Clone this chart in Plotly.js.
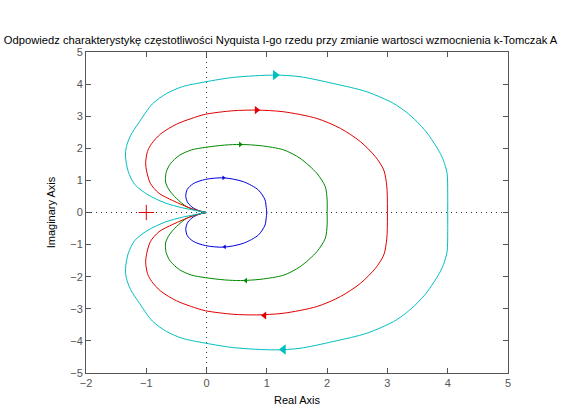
<!DOCTYPE html>
<html>
<head>
<meta charset="utf-8">
<script src="https://cdn.plot.ly/plotly-3.0.1.min.js"></script>
<style>html,body{margin:0;padding:0;background:#fff;}#chart{width:561px;height:420px;}</style>
</head>
<body>
<div id="chart"></div>
<script>
// Upper half of each Nyquist curve (negative frequencies), ordered from the origin to (k, 0).
// The lower half (positive frequencies) is the complex conjugate.
const gains = [1, 2, 3, 4];

const re1 = [0, -0.10, -0.22, -0.31, -0.345, -0.32, -0.22, -0.02, 0.28, 0.61, 0.86, 0.97, 0.99, 1.0];
const im1 = [0, 0.04, 0.14, 0.30, 0.50, 0.72, 0.90, 1.03, 1.08, 0.96, 0.70, 0.39, 0.15, 0];

const re2 = [0, -0.15, -0.33, -0.50, -0.62, -0.68, -0.67, -0.60, -0.45, -0.25, -0.02, 0.30, 0.56, 0.90, 1.28, 1.55, 1.83, 1.97, 2.0, 2.0];
const im2 = [0, 0.06, 0.18, 0.44, 0.70, 0.95, 1.25, 1.52, 1.78, 1.95, 2.03, 2.10, 2.12, 2.08, 1.95, 1.69, 1.22, 0.80, 0.39, 0];

const re3 = [0, -0.22, -0.56, -0.79, -0.93, -0.99, -1.01, -0.98, -0.91, -0.76, -0.50, -0.25, -0.02, 0.44, 0.83, 1.27, 1.83, 2.22, 2.55, 2.80, 2.94, 2.99, 3.0];
const im3 = [0, 0.10, 0.37, 0.60, 0.90, 1.25, 1.55, 1.90, 2.15, 2.45, 2.75, 2.93, 3.06, 3.17, 3.19, 3.14, 2.93, 2.62, 2.21, 1.74, 1.32, 0.80, 0];

const re4 = [0, -0.20, -0.41, -0.69, -0.97, -1.19, -1.30, -1.345, -1.33, -1.26, -1.13, -0.90, -0.66, -0.40, -0.02, 0.45, 1.14, 1.55, 2.10, 2.66, 3.10, 3.31, 3.49, 3.64, 3.76, 3.86, 3.93, 3.99, 4.0, 4.0];
const im4 = [0, 0.07, 0.15, 0.30, 0.55, 0.87, 1.28, 1.75, 2.05, 2.40, 2.78, 3.38, 3.71, 3.92, 4.07, 4.21, 4.28, 4.23, 4.02, 3.76, 3.40, 3.13, 2.83, 2.52, 2.20, 1.90, 1.62, 1.22, 0.60, 0];

// Direction arrows
const arrowUpRe = [0.28, 0.56, 0.83, 1.14];
const arrowUpIm = [1.08, 2.12, 3.19, 4.28];
const arrowDnRe = [0.30, 0.65, 0.96, 1.275];
const arrowDnIm = [-1.07, -2.12, -3.21, -4.27];

// Critical point
const critRe = [-1];
const critIm = [0];

const colors = ['#0000e0', '#008a00', '#e00000', '#00bfbf'];
const arrowSizes = [4, 5, 7, 9];
const reArr = [re1, re2, re3, re4];
const imArr = [im1, im2, im3, im4];

const traces = [];
for (let i = 0; i < gains.length; i++) {
  const re = reArr[i], im = imArr[i];
  // lower half: conjugate, from (k,0) to origin
  const reLo = re.slice().reverse();
  const imLo = im.slice().reverse().map(v => -v);
  traces.push({x: reLo, y: imLo, type: 'scatter', mode: 'lines',
    line: {color: colors[i], width: 1, shape: 'spline', smoothing: 0.8}, hoverinfo: 'skip', showlegend: false});
  traces.push({x: re, y: im, type: 'scatter', mode: 'lines',
    line: {color: colors[i], width: 1, shape: 'spline', smoothing: 0.8}, hoverinfo: 'skip', showlegend: false});
  traces.push({x: [arrowUpRe[i]], y: [arrowUpIm[i]], type: 'scatter', mode: 'markers',
    marker: {symbol: 'triangle-right', size: arrowSizes[i], color: colors[i]}, showlegend: false, hoverinfo: 'skip'});
  traces.push({x: [arrowDnRe[i]], y: [arrowDnIm[i]], type: 'scatter', mode: 'markers',
    marker: {symbol: 'triangle-left', size: arrowSizes[i], color: colors[i]}, showlegend: false, hoverinfo: 'skip'});
}
traces.push({x: critRe, y: critIm, type: 'scatter', mode: 'markers',
  marker: {symbol: 'cross-thin', size: 11, line: {color: '#e00000', width: 1}}, showlegend: false, hoverinfo: 'skip'});

const axisCommon = {
  showgrid: false, zeroline: false, showline: true, linecolor: '#555', linewidth: 1,
  mirror: 'ticks', ticks: 'inside', ticklen: 5, tickcolor: '#555', tickwidth: 1,
  dtick: 1, tickfont: {family: 'Liberation Sans, Arial, sans-serif', size: 11, color: '#555'}
};

const layout = {
  width: 561, height: 420,
  margin: {l: 86, r: 53, t: 52, b: 47},
  paper_bgcolor: '#fff', plot_bgcolor: '#fff',
  font: {family: 'Liberation Sans, Arial, sans-serif', size: 11, color: '#000'},
  title: {text: 'Odpowiedz charakterystykę częstotliwości Nyquista I-go rzedu przy zmianie wartosci wzmocnienia k-Tomczak A',
    font: {family: 'Liberation Sans, Arial, sans-serif', size: 11.2, color: '#000'},
    xref: 'container', x: 0.5, xanchor: 'center', yref: 'container', y: 1 - 40/420, yanchor: 'middle'},
  xaxis: Object.assign({}, axisCommon, {range: [-2, 5], title: {text: 'Real Axis', standoff: 8, font: {size: 11, color: '#000'}}}),
  yaxis: Object.assign({}, axisCommon, {range: [-5, 5], title: {text: 'Imaginary Axis', standoff: 12, font: {size: 11, color: '#000'}}}),
  shapes: [
    {type: 'line', xref: 'paper', x0: 0, x1: 1, yref: 'y', y0: 0, y1: 0, layer: 'below', line: {color: '#333', width: 1, dash: '1px,4px'}},
    {type: 'line', xref: 'x', x0: 0, x1: 0, yref: 'paper', y0: 0, y1: 1, layer: 'below', line: {color: '#333', width: 1, dash: '1px,4px'}}
  ]
};

Plotly.newPlot('chart', traces, layout, {displayModeBar: false, staticPlot: true});
</script>
</body>
</html>
